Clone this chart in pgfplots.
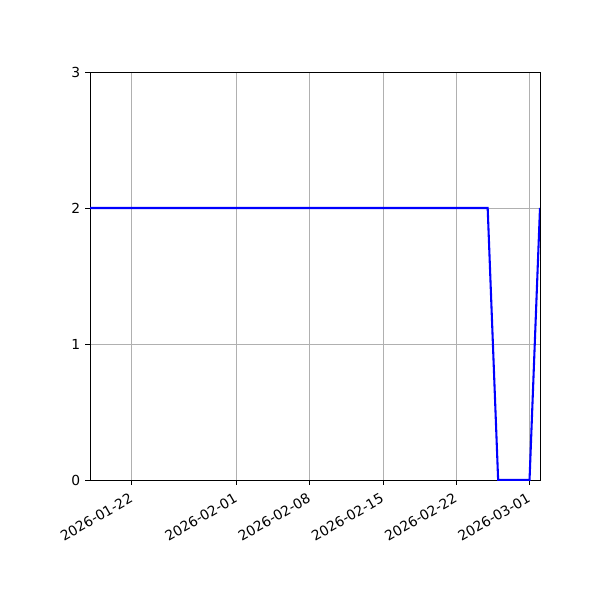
\documentclass[border=0pt]{standalone}
\usepackage{fontspec}
\setmainfont{DejaVu Sans}
\usepackage{pgfplots}
\pgfplotsset{compat=1.18}

% days counted from 2026-01-01 (day 0)
\pgfplotstableread{
day val
17 2
18 2
19 2
20 2
21 2
22 2
23 2
24 2
25 2
26 2
27 2
28 2
29 2
30 2
31 2
32 2
33 2
34 2
35 2
36 2
37 2
38 2
39 2
40 2
41 2
42 2
43 2
44 2
45 2
46 2
47 2
48 2
49 2
50 2
51 2
52 2
53 2
54 2
55 2
56 0
57 0
58 0
59 0
60 2
}\series

\begin{document}
\begin{tikzpicture}[x=1in,y=1in]
\fill[white] (0,0) rectangle (6,6);
\begin{axis}[
  at={(0.9in,1.2in)}, anchor=south west,
  width=4.5in, height=4.08in, scale only axis,
  xmin=17, xmax=60, ymin=0, ymax=3,
  xtick={21,31,38,45,52,59},
  xticklabels={2026-01-22,2026-02-01,2026-02-08,2026-02-15,2026-02-22,2026-03-01},
  ytick={0,1,2,3},
  x tick label style={rotate=30, anchor=north east, xshift=-1.3pt, yshift=0pt},
  tick label style={font=\fontsize{10}{12}\selectfont},
  /pgf/number format/assume math mode=true,
  tick align=outside, major tick length=3.5pt,
  tick style={black, line width=0.65pt},
  axis line style={black, line width=0.65pt},
  xtick pos=bottom, ytick pos=left,
  grid=major,
  major grid style={color=black!31, line width=0.6pt},
]
\addplot[blue, line width=1.5pt, no marks] table[x=day, y=val] {\series};
\end{axis}
\end{tikzpicture}
\end{document}
